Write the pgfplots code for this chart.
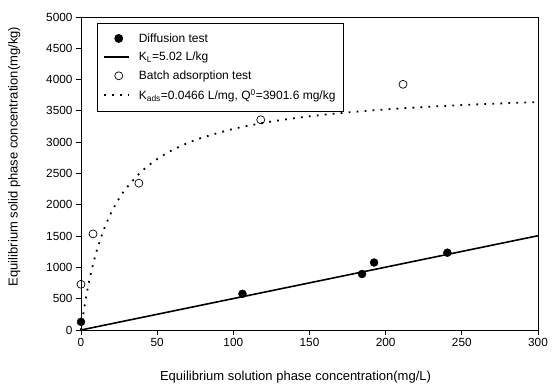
\documentclass[border=0pt]{standalone}
\usepackage{fontspec}
\setmainfont{Liberation Sans}
\usepackage{pgfplots}
\pgfplotsset{compat=1.18}
\pgfplotsset{
  markleg/.style={legend image code/.code={\draw[##1] plot coordinates {(15bp,0bp)}; \path[draw=none, fill=none] (0bp,0bp) rectangle (33bp,0.1bp);}},
  lineleg/.style={legend image code/.code={\draw[##1, line width=1.6bp] (0bp,0bp) -- (25bp,0bp); \path[draw=none, fill=none] (33bp,0bp) rectangle (33.1bp,0.1bp);}},
  dotleg/.style={legend image code/.code={\draw[##1, line width=1.8bp] (0.5bp,0bp) -- (25bp,0bp); \path[draw=none, fill=none] (33bp,0bp) rectangle (33.1bp,0.1bp);}},
}
\begin{document}
\begin{tikzpicture}
\begin{axis}[
  scale only axis,
  width=457bp, height=313bp,
  xmin=0, xmax=300, ymin=0, ymax=5000,
  xtick={0,50,...,300}, ytick={0,500,...,5000},
  tick align=outside, tickpos=left,
  major tick length=5bp,
  /pgf/number format/assume math mode=true,
  /pgf/number format/set thousands separator={},
  tick label style={font=\fontsize{11.8bp}{13bp}\selectfont},
  label style={font=\fontsize{13bp}{15bp}\selectfont},
  xlabel={Equilibrium solution phase concentration(mg/L)},
  ylabel={Equilibrium solid phase concentration(mg/kg)},
  xlabel style={yshift=-17bp, xshift=-14bp},
  ylabel style={yshift=19bp, xshift=17bp},
  axis line style={line width=0.8bp},
  every tick/.style={black, line width=0.8bp},
  legend style={at={(rel axis cs:0.034,0.981)}, anchor=north west, draw=black, line width=0.8bp,
    font=\fontsize{12bp}{14bp}\selectfont, row sep=4.5bp, inner xsep=6bp, inner ysep=8bp},
  legend cell align=left,
  clip=false,
]
\addplot[only marks, mark=*, mark size=4bp, black, markleg] coordinates {
  (0,130) (106,578) (184.5,895) (192.4,1078) (240.5,1235)
};
\addlegendentry{Diffusion test}
\addplot[black, line width=1.6bp, lineleg] coordinates {(0,0) (300,1506)};
\addlegendentry{K\textsubscript{L}=5.02 L/kg}
\addplot[only marks, mark=o, mark size=4bp, black, mark options={line width=0.7bp, fill=white}, markleg] coordinates {
  (0,730) (7.9,1535) (38,2345) (118,3358) (211.4,3925)
};
\addlegendentry{Batch adsorption test}
\addplot[black, line width=1.8bp, dash pattern=on 1.8bp off 6.2bp, smooth, dotleg] coordinates {
  (0,0) (1,173.7) (2,332.6) (3,478.5) (4,613.0) (5,737.3) (7,959.7) (10,1240.2)
  (15,1605.2) (20,1882.1) (25,2099.5) (30,2274.6) (40,2539.3) (50,2729.9)
  (60,2873.8) (70,2986.2) (80,3076.4) (100,3212.3) (120,3309.7) (140,3383.1)
  (160,3440.2) (180,3486.0) (200,3523.5) (225,3561.9) (250,3593.2) (275,3619.2) (300,3641.2)
};
\addlegendentry{K\textsubscript{ads}=0.0466 L/mg, Q\textsuperscript{0}=3901.6 mg/kg}
\end{axis}
\pgfresetboundingbox
\path (current axis.south west) ++(-81bp,-55bp) rectangle ++(555bp,385bp);
\end{tikzpicture}
\end{document}
